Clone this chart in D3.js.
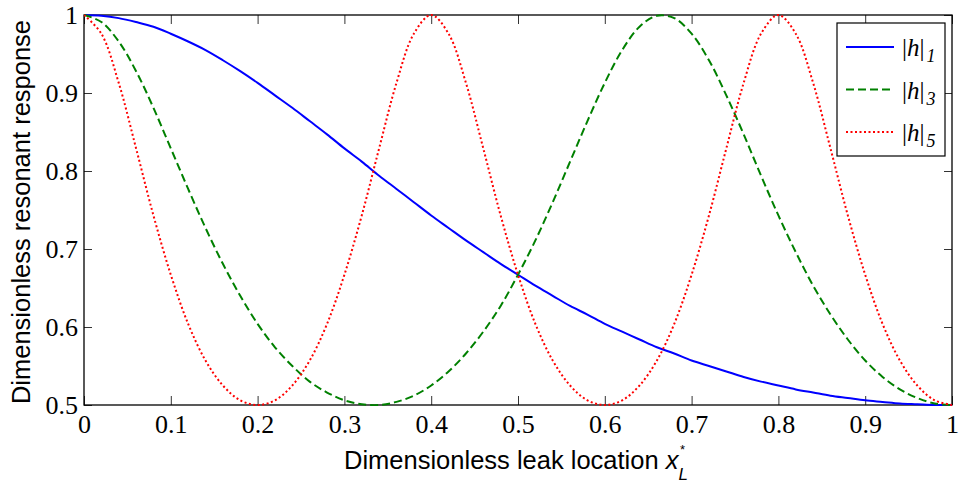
<!DOCTYPE html>
<html>
<head>
<meta charset="utf-8">
<script src="https://cdn.jsdelivr.net/npm/d3@7"></script>
<style>
  body { margin: 0; background: #fff; }
  svg { display: block; }
</style>
</head>
<body>
<div id="wrapper"></div>
<script>
// leak location samples (dimensionless)
const xs = [0, 0.02, 0.04, 0.06, 0.08, 0.10, 0.12, 0.14, 0.16, 0.18, 0.20,
    0.22, 0.24, 0.26, 0.28, 0.30, 0.32, 0.34, 0.36, 0.38, 0.40,
    0.42, 0.44, 0.46, 0.48, 0.50, 0.52, 0.54, 0.56, 0.58, 0.60,
    0.62, 0.64, 0.66, 0.68, 0.70, 0.72, 0.74, 0.76, 0.78, 0.80,
    0.82, 0.84, 0.86, 0.88, 0.90, 0.92, 0.94, 0.96, 0.98, 1.00];

const h1 = [1.000, 0.999, 0.996, 0.991, 0.985, 0.976, 0.966, 0.955, 0.942, 0.928, 0.913,
    0.897, 0.881, 0.864, 0.847, 0.829, 0.812, 0.794, 0.777, 0.760, 0.743,
    0.727, 0.711, 0.696, 0.681, 0.667, 0.653, 0.640, 0.627, 0.616, 0.604,
    0.594, 0.584, 0.574, 0.566, 0.557, 0.550, 0.543, 0.536, 0.530, 0.525,
    0.520, 0.516, 0.512, 0.509, 0.506, 0.504, 0.502, 0.501, 0.500, 0.500];

const h3 = [1.000, 0.991, 0.966, 0.928, 0.881, 0.829, 0.777, 0.727, 0.681, 0.640, 0.604,
    0.574, 0.550, 0.530, 0.516, 0.506, 0.501, 0.500, 0.504, 0.512, 0.525,
    0.543, 0.566, 0.594, 0.627, 0.667, 0.711, 0.760, 0.812, 0.864, 0.913,
    0.955, 0.985, 0.999, 0.996, 0.976, 0.942, 0.897, 0.847, 0.794, 0.743,
    0.696, 0.653, 0.616, 0.584, 0.557, 0.536, 0.520, 0.509, 0.502, 0.500];

const h5 = [1.000, 0.976, 0.913, 0.829, 0.743, 0.667, 0.604, 0.557, 0.525, 0.506, 0.500,
    0.506, 0.525, 0.557, 0.604, 0.667, 0.743, 0.829, 0.913, 0.976, 1.000,
    0.976, 0.913, 0.829, 0.743, 0.667, 0.604, 0.557, 0.525, 0.506, 0.500,
    0.506, 0.525, 0.557, 0.604, 0.667, 0.743, 0.829, 0.913, 0.976, 1.000,
    0.976, 0.913, 0.829, 0.743, 0.667, 0.604, 0.557, 0.525, 0.506, 0.500];

const xTicks = [0, 0.1, 0.2, 0.3, 0.4, 0.5, 0.6, 0.7, 0.8, 0.9, 1];
const yTicks = [0.5, 0.6, 0.7, 0.8, 0.9, 1];
const seriesNames = ["1", "3", "5"];

const dimension = {
    width: 959,
    height: 487,
    margin: { top: 15, left: 84, bottom: 82, right: 7 }
};
dimension.boundedWidth = dimension.width - dimension.margin.left - dimension.margin.right;
dimension.boundedHeight = dimension.height - dimension.margin.top - dimension.margin.bottom;

const svg = d3.select("#wrapper").append("svg")
    .attr("width", dimension.width)
    .attr("height", dimension.height);

const xScaler = d3.scaleLinear().domain([0, 1])
    .range([dimension.margin.left, dimension.margin.left + dimension.boundedWidth]);
const yScaler = d3.scaleLinear().domain([0.5, 1])
    .range([dimension.margin.top + dimension.boundedHeight, dimension.margin.top]);

const tickFont = "'Liberation Serif', 'Times New Roman', serif";
const labelFont = "'Liberation Sans', Arial, sans-serif";

// axes, ticks pointing inward
const fmt = d => d === 0 || d === 1 ? String(d) : d3.format(".1f")(d);
const yBottom = yScaler(0.5), yTop = yScaler(1), xLeft = xScaler(0), xRight = xScaler(1);

const gx = svg.append("g").attr("transform", `translate(0,${yBottom})`)
    .call(d3.axisBottom(xScaler).tickValues(xTicks).tickFormat(fmt).tickSizeInner(-9).tickSizeOuter(0).tickPadding(10));
const gxTop = svg.append("g").attr("transform", `translate(0,${yTop})`)
    .call(d3.axisTop(xScaler).tickValues(xTicks).tickFormat("").tickSizeInner(-9).tickSizeOuter(0));
const gy = svg.append("g").attr("transform", `translate(${xLeft},0)`)
    .call(d3.axisLeft(yScaler).tickValues(yTicks).tickFormat(fmt).tickSizeInner(-8).tickSizeOuter(0).tickPadding(6));
const gyRight = svg.append("g").attr("transform", `translate(${xRight},0)`)
    .call(d3.axisRight(yScaler).tickValues(yTicks).tickFormat("").tickSizeInner(-8).tickSizeOuter(0));

[gx, gxTop, gy, gyRight].forEach(g => {
    g.select(".domain").remove();
    g.selectAll(".tick line").attr("stroke", "#333").attr("stroke-width", 1);
    g.selectAll("text").attr("fill", "#000").style("font-family", tickFont).style("font-size", "26px");
});

svg.append("rect")
    .attr("x", xLeft).attr("y", yTop)
    .attr("width", xRight - xLeft).attr("height", yBottom - yTop)
    .attr("fill", "none").attr("stroke", "#000").attr("stroke-width", 1.3);

// curves
svg.append("clipPath").attr("id", "clip").append("rect")
    .attr("x", xLeft).attr("y", yTop - 1)
    .attr("width", xRight - xLeft).attr("height", yBottom - yTop + 2);

const line = d3.line()
    .x((d, i) => xScaler(xs[i]))
    .y(d => yScaler(d))
    .curve(d3.curveCatmullRom.alpha(0.5));

const styles = [
    { data: h1, color: "#0000ff", dash: null },
    { data: h3, color: "#008000", dash: "8,4" },
    { data: h5, color: "#ff0000", dash: "2,2.5" }
];

const plot = svg.append("g").attr("clip-path", "url(#clip)");
styles.forEach(s => {
    plot.append("path")
        .attr("d", line(s.data))
        .attr("fill", "none")
        .attr("stroke", s.color)
        .attr("stroke-width", 2)
        .attr("stroke-dasharray", s.dash);
});

// legend
const legend = svg.append("g");
legend.append("rect")
    .attr("x", 837).attr("y", 23).attr("width", 108).attr("height", 133)
    .attr("fill", "#fff").attr("stroke", "#000").attr("stroke-width", 1.2);

styles.forEach((s, i) => {
    const yRow = 47 + i * 42.5;
    legend.append("line")
        .attr("x1", 846).attr("x2", 894).attr("y1", yRow).attr("y2", yRow)
        .attr("stroke", s.color).attr("stroke-width", 2)
        .attr("stroke-dasharray", s.dash);
    const t = legend.append("text")
        .attr("x", 902).attr("y", yRow + 9)
        .style("font-family", tickFont).style("font-size", "25px");
    t.append("tspan").text("|");
    t.append("tspan").style("font-style", "italic").text("h");
    t.append("tspan").text("|");
    t.append("tspan").attr("dx", 2).attr("dy", 6).style("font-style", "italic")
        .style("font-size", "18px").text(seriesNames[i]);
});

// axis labels
const xl = svg.append("text")
    .attr("x", 344).attr("y", 469)
    .style("font-family", labelFont).style("font-size", "25.5px");
xl.append("tspan").text("Dimensionless leak location ");
xl.append("tspan").style("font-style", "italic").text("x");
xl.append("tspan").attr("dy", 11).style("font-style", "italic").style("font-size", "17px").text("L");
xl.append("tspan").attr("dx", -8).attr("dy", -26).style("font-size", "13px").text("*");

svg.append("text")
    .attr("transform", "rotate(-90)")
    .attr("x", -212).attr("y", 30)
    .attr("text-anchor", "middle")
    .style("font-family", labelFont).style("font-size", "25.5px")
    .text("Dimensionless resonant response");
</script>
</body>
</html>
